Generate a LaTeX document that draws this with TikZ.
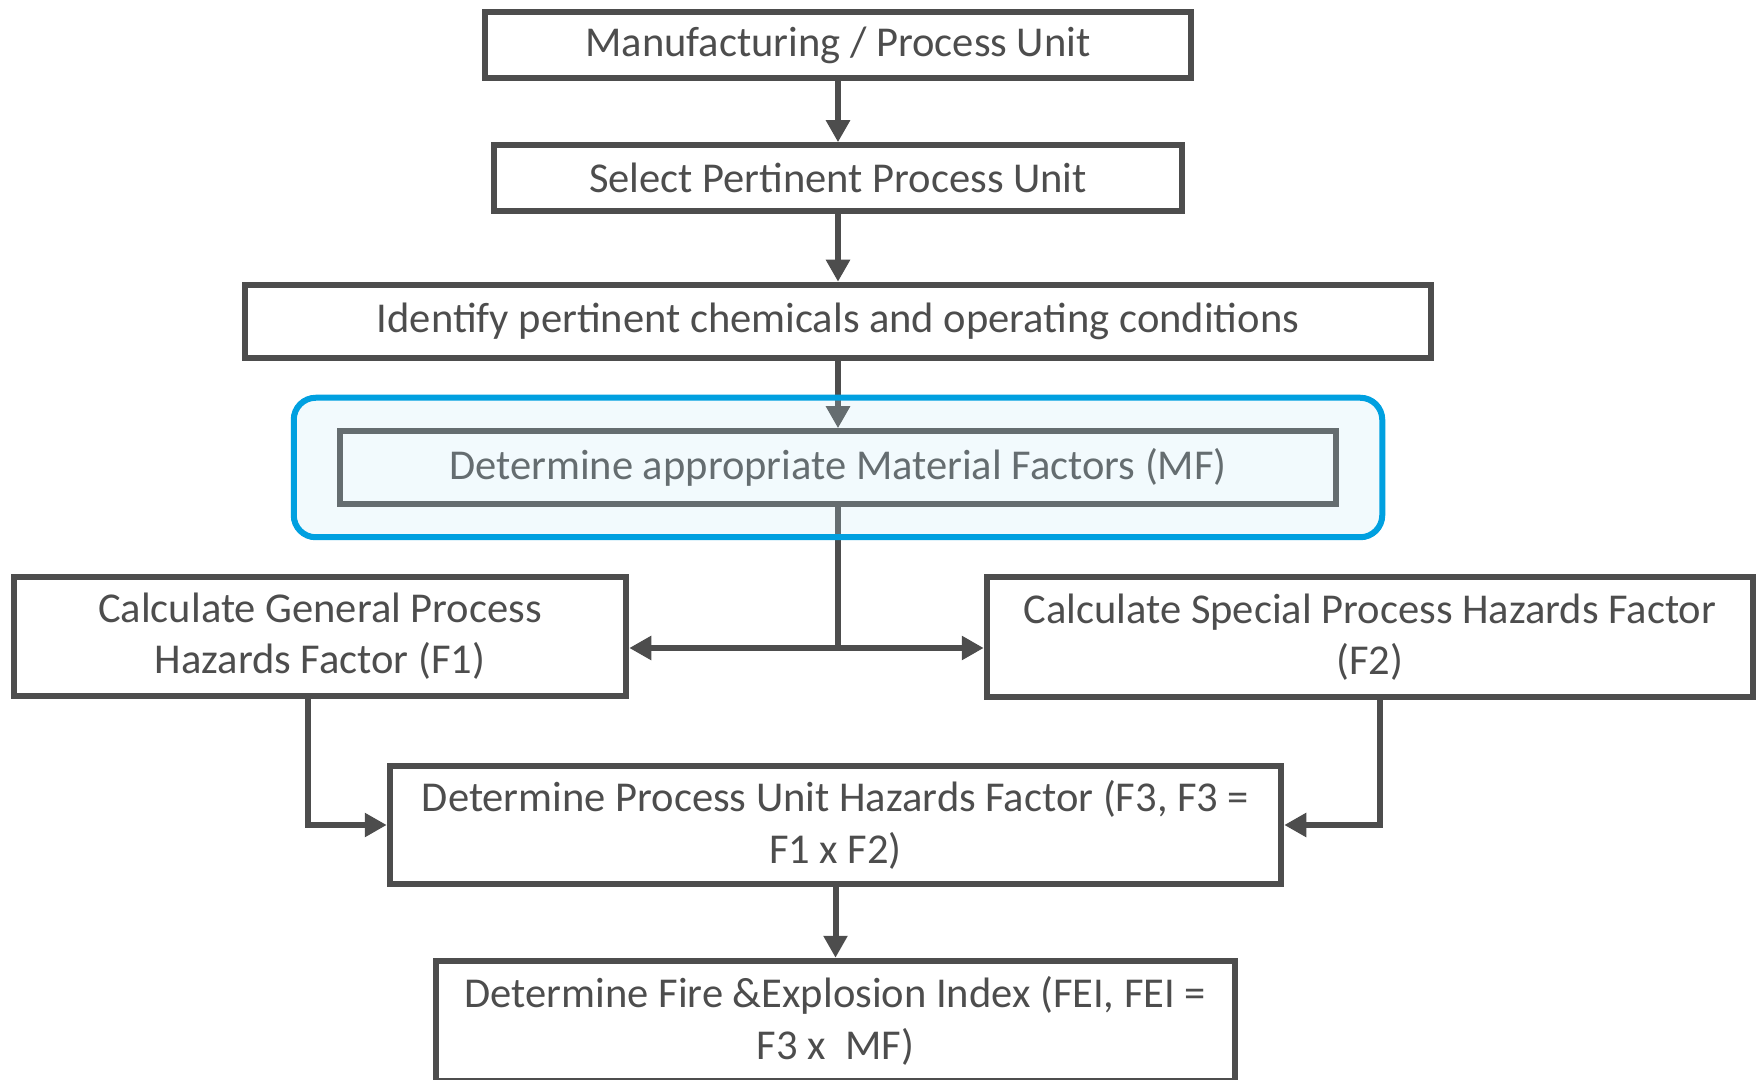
\documentclass[tikz,border=0pt]{standalone}
\usepackage{fontspec}
\setmainfont{Carlito}
\usepackage{tikz}
\usetikzlibrary{positioning,calc,arrows.meta,fit}
\definecolor{linegray}{RGB}{77,77,77}
\definecolor{hiblue}{RGB}{0,160,224}
\definecolor{hifill}{RGB}{192,231,245}

\begin{document}
\begin{tikzpicture}[box/.style={draw=linegray,line width=0.06cm,text=linegray,align=center,
font=\fontsize{12.1}{14.6}\selectfont,inner sep=0pt},
edge/.style={draw=linegray,line width=0.06cm,-{Triangle[length=0.22cm,width=0.23cm]}},
trunk/.style={draw=linegray,line width=0.06cm},
hilite/.style={draw=hiblue,line width=0.06cm,rounded corners=0.22cm,fill=hifill,
fill opacity=0.21,draw opacity=1,inner xsep=0.43cm,inner ysep=0.305cm}]

\useasboundingbox (0,0) rectangle (17.58,-10.80);

% nodes
\node[box,minimum width=7.065cm,minimum height=0.665cm](unit) at (8.38,-0.45){Manufacturing / Process Unit};
\node[box,below=0.61 of unit,minimum width=6.875cm,minimum height=0.655cm](select){Select Pertinent Process Unit};
\node[box,below=0.68 of select,minimum width=11.865cm,minimum height=0.735cm](chem){Identify pertinent chemicals and operating conditions};
\node[box,below=0.67 of chem,minimum width=9.965cm,minimum height=0.725cm](mf){Determine appropriate Material Factors (MF)};

\node[box,minimum width=6.125cm,minimum height=1.195cm](gen) at (3.2,-6.365){Calculate General Process\\Hazards Factor (F1)};
\node[box,minimum width=7.665cm,minimum height=1.205cm](spec) at (13.70,-6.37){Calculate Special Process Hazards Factor\\(F2)};

\node[box,minimum width=8.915cm,minimum height=1.175cm](unitf) at (8.355,-8.25){Determine Process Unit Hazards Factor (F3, F3 =\\F1 x F2)};
\node[box,below=0.71 of unitf,minimum width=7.985cm,minimum height=1.2cm](fei){Determine Fire \&Explosion Index (FEI, FEI =\\F3 x\ \ MF)};

\coordinate (split) at (8.38,-6.48);

% edges
\draw[edge] (unit) -- (select);
\draw[edge] (select) -- (chem);
\draw[edge] (chem) -- (mf);
\draw[trunk] (mf) -- (split);
\draw[edge] (split) -- (split -| gen.east);
\draw[edge] (split) -- (split -| spec.west);
\draw[edge] ([xshift=-0.12cm]gen.south) |- (unitf.west);
\draw[edge] ([xshift=0.10cm]spec.south) |- (unitf.east);
\draw[edge] (unitf) -- (fei);

% highlight
\node[hilite,fit=(mf)](hl){};
\end{tikzpicture}
\end{document}
